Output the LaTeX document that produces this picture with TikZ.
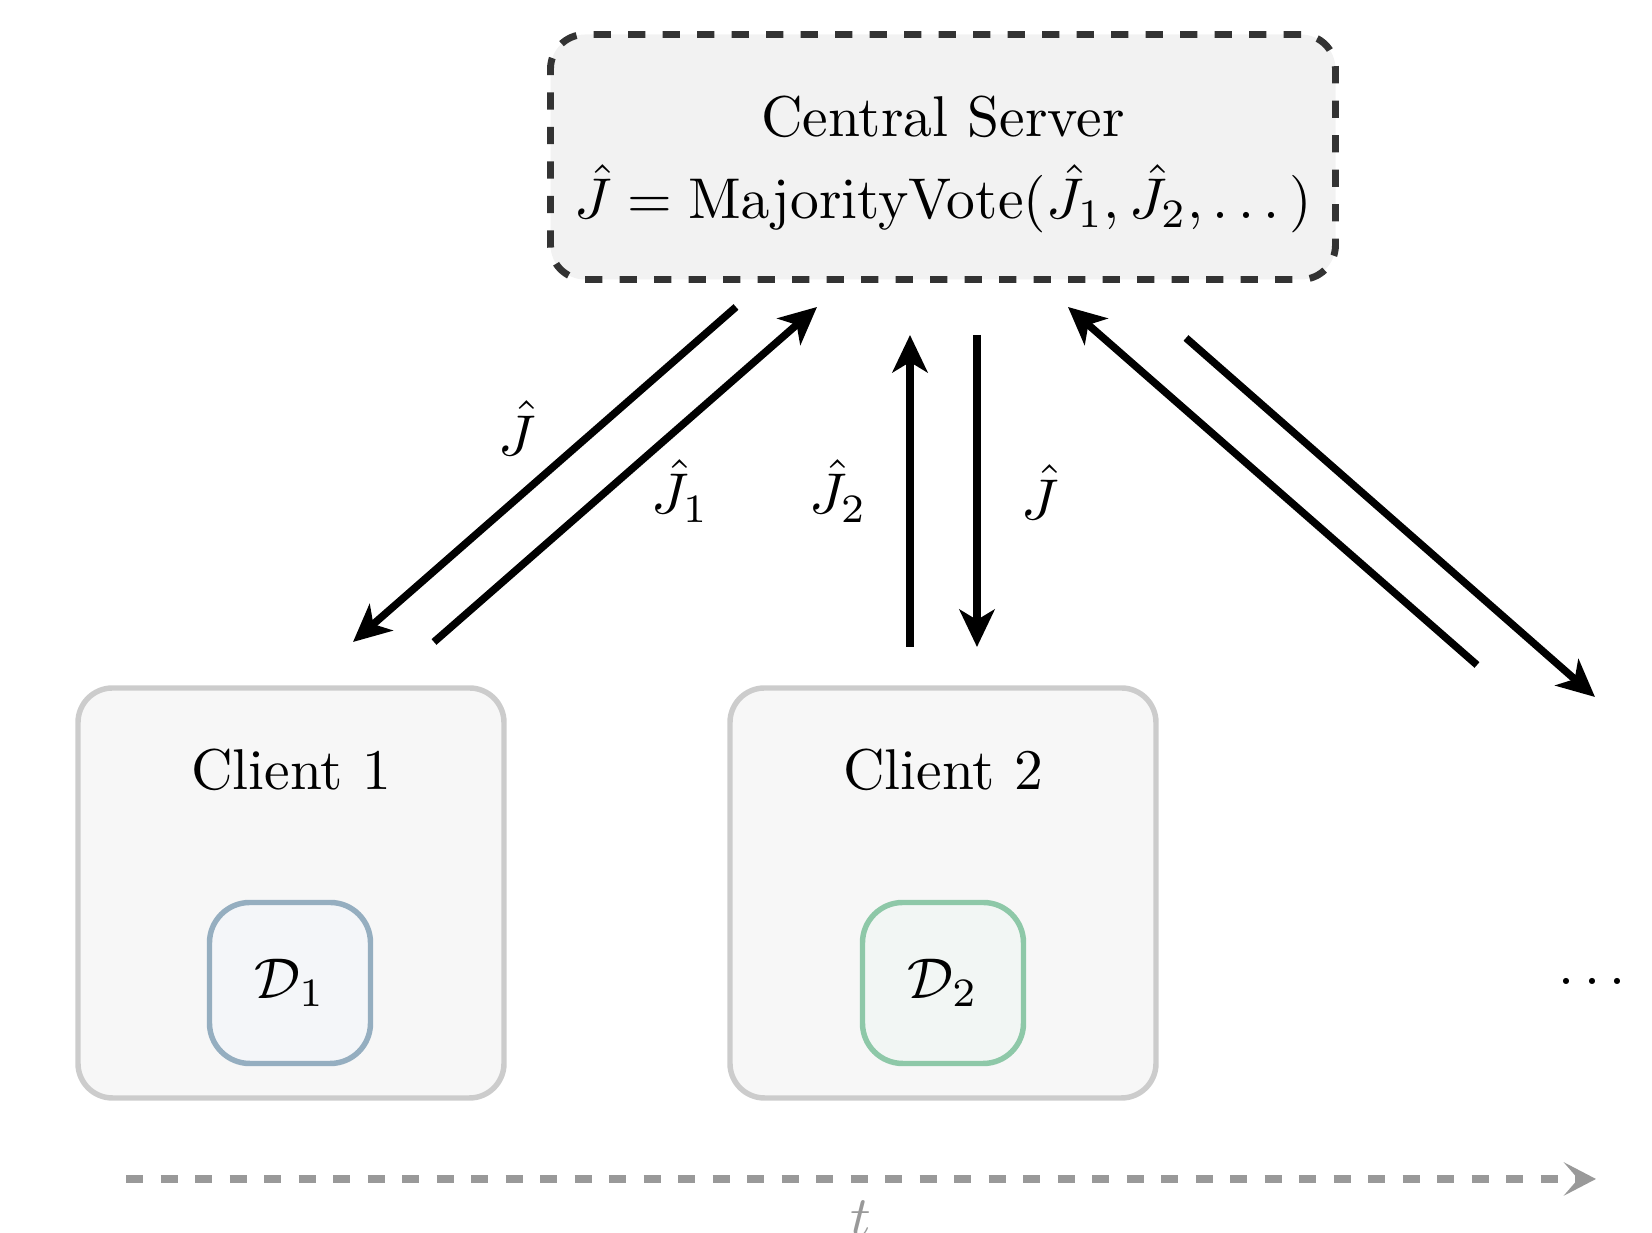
\documentclass[tikz,border=0pt]{standalone}
\usepackage{amsmath}
\usetikzlibrary{arrows.meta}
% one drawing unit = 0.1739pt
\def\pxu{0.1739pt}
\definecolor{srvborder}{HTML}{333333}
\definecolor{srvfill}{HTML}{F2F2F2}
\definecolor{clientborder}{HTML}{CCCCCC}
\definecolor{clientfill}{HTML}{F7F7F7}
\definecolor{dataonebd}{HTML}{95AEC0}
\definecolor{dataonefill}{HTML}{F4F6F9}
\definecolor{datatwobd}{HTML}{8EC8A8}
\definecolor{datatwofill}{HTML}{F2F6F4}
\definecolor{axisgray}{HTML}{999999}
\begin{document}
\begin{tikzpicture}[x=\pxu,y=-\pxu,
  serverbox/.style={draw=srvborder, fill=srvfill, line width=1.2pt,
    dashed, rounded corners=6pt, inner sep=0pt,
    minimum width=785*\pxu, minimum height=245*\pxu},
  clientbox/.style={draw=clientborder, fill=clientfill, line width=0.95pt,
    rounded corners=6pt, inner sep=0pt,
    minimum width=426*\pxu, minimum height=410*\pxu},
  databox/.style={line width=0.95pt, rounded corners=7pt, inner sep=0pt,
    minimum width=161*\pxu, minimum height=161*\pxu},
  msg/.style={line width=1.3pt, -{Stealth[length=6.5pt,width=6.1pt,inset=1.8pt]}},
  timeline/.style={draw=axisgray, line width=1.4pt, dashed,
    -{Stealth[length=5.6pt,width=5.8pt,inset=2.5pt]}},
  lbl/.style={inner sep=0pt}]
\useasboundingbox (0,0) rectangle (1652,1233);

% server
\node[serverbox] (server) at (943,157) {};
\node[lbl, anchor=base] (srvtitle) at (943,137) {Central Server};
\node[lbl, anchor=base] (srvrule) at (943,219)
  {$\hat{J} = \mathrm{MajorityVote}(\hat{J}_1, \hat{J}_2, \dots)$};

% clients
\node[clientbox] (client1) at (291,893) {};
\node[lbl, anchor=base] (c1title) at (291,790) {Client 1};
\node[databox, draw=dataonebd, fill=dataonefill] (data1) at (290,983) {$\mathcal{D}_1$};

\node[clientbox] (client2) at (943,893) {};
\node[lbl, anchor=base] (c2title) at (943,790) {Client 2};
\node[databox, draw=datatwobd, fill=datatwofill] (data2) at (943,983) {$\mathcal{D}_2$};

\node[lbl] (more) at (1597,981) {$\dots$};

% message end points
\coordinate (a1s) at (736,307);
\coordinate (a1e) at (353,642);
\coordinate (a2s) at (434,642);
\coordinate (a2e) at (817,307);
\coordinate (a3s) at (910,647);
\coordinate (a3e) at (910,335);
\coordinate (a4s) at (977,335);
\coordinate (a4e) at (977,647);
\coordinate (a5s) at (1477,665);
\coordinate (a5e) at (1068,307);
\coordinate (a6s) at (1186,338);
\coordinate (a6e) at (1595,697);

\draw[msg] (a1s) -- (a1e);
\draw[msg] (a2s) -- (a2e);
\draw[msg] (a3s) -- (a3e);
\draw[msg] (a4s) -- (a4e);
\draw[msg] (a5s) -- (a5e);
\draw[msg] (a6s) -- (a6e);

\node[lbl] (lab1) at (517,428) {$\hat{J}$};
\node[lbl] (lab2) at (680,491) {$\hat{J}_1$};
\node[lbl] (lab3) at (838,491) {$\hat{J}_2$};
\node[lbl] (lab4) at (1040,492) {$\hat{J}$};

% time axis
\coordinate (ts) at (126,1179);
\coordinate (te) at (1596,1179);
\draw[timeline] (ts) -- (te);
\node[lbl, anchor=base, text=axisgray] (tlabel) at (861,1237) {$t$};
\end{tikzpicture}
\end{document}
